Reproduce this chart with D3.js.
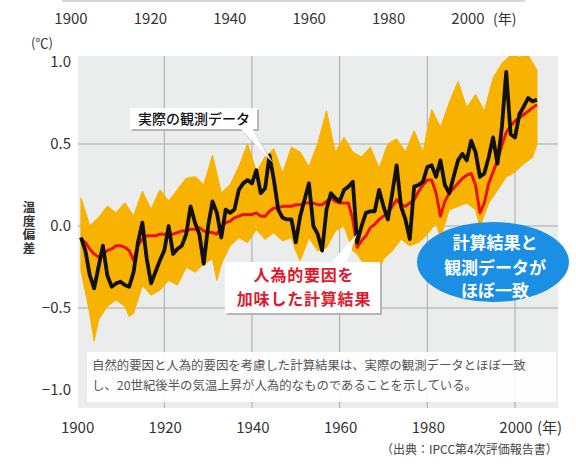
<!DOCTYPE html>
<html>
<head>
<meta charset="utf-8">
<script src="https://cdn.jsdelivr.net/npm/d3@7"></script>
<style>
  html, body { margin: 0; padding: 0; background: #fff; }
  svg { display: block; font-family: "Noto Sans CJK JP", "Noto Sans", sans-serif; }
</style>
</head>
<body>
<svg id="chart" width="576" height="471"></svg>
<script>
// --- data ---
const firstYear = 1901;
const observed = [
  -0.07,-0.15,-0.30,-0.38,-0.25,-0.12,-0.30,-0.37,-0.35,-0.34,
  -0.36,-0.37,-0.28,-0.10,0.02,-0.20,-0.35,-0.28,-0.21,-0.15,
  0.00,-0.17,-0.14,-0.12,-0.05,0.12,0.02,-0.05,-0.23,0.00,
  0.15,0.08,-0.07,0.10,0.08,0.10,0.22,0.26,0.28,0.26,
  0.34,0.20,0.23,0.43,0.28,0.10,0.05,0.04,0.04,-0.10,
  0.06,0.16,0.26,0.00,-0.05,-0.15,0.10,0.20,0.17,0.15,
  0.22,0.24,0.27,-0.10,0.00,0.08,0.09,0.09,0.22,0.12,
  0.04,0.20,0.37,0.12,0.04,-0.08,0.24,0.25,0.27,0.36,
  0.37,0.30,0.40,0.25,0.20,0.30,0.40,0.44,0.40,0.52,
  0.45,0.30,0.32,0.42,0.54,0.38,0.60,0.94,0.56,0.54,
  0.68,0.73,0.78,0.76,0.77
];
const modelMean = [
  -0.08,-0.10,-0.14,-0.17,-0.19,-0.17,-0.15,-0.14,-0.12,-0.12,
  -0.13,-0.15,-0.21,-0.12,-0.08,-0.06,-0.06,-0.06,-0.05,-0.05,
  -0.05,-0.05,-0.04,-0.03,-0.03,-0.02,-0.02,-0.01,-0.03,-0.04,
  -0.04,-0.05,-0.01,0.02,0.03,0.05,0.06,0.07,0.07,0.07,
  0.08,0.06,0.06,0.09,0.11,0.11,0.12,0.12,0.12,0.13,
  0.13,0.14,0.14,0.14,0.13,0.13,0.15,0.17,0.15,0.14,
  0.14,0.14,0.04,-0.13,-0.09,-0.06,-0.01,0.01,0.04,0.06,
  0.08,0.12,0.16,0.13,0.12,0.14,0.16,0.21,0.25,0.28,
  0.28,0.20,0.06,0.15,0.20,0.23,0.26,0.29,0.31,0.32,
  0.25,0.08,0.14,0.26,0.33,0.40,0.49,0.57,0.61,0.64,
  0.66,0.68,0.70,0.72,0.74
];
// model spread (upper / lower edge of the orange bundle)
const upperYears = [1901,1903,1905,1907,1909,1911,1913,1915,1917,1919,1921,1923,1925,1927,1929,1931,1933,1935,1937,1939,1941,1943,1945,1947,1949,1951,1953,1955,1957,1959,1961,1963,1965,1967,1969,1971,1973,1975,1977,1979,1981,1983,1985,1987,1989,1991,1993,1995,1997,1999,2001,2003,2005];
const upperVals  = [0.17,0.00,0.05,0.12,0.08,0.14,0.06,0.21,0.10,0.22,0.15,0.22,0.29,0.30,0.25,0.43,0.20,0.25,0.36,0.50,0.33,0.42,0.47,0.32,0.48,0.45,0.36,0.50,0.70,0.45,0.54,0.45,0.42,0.48,0.35,0.50,0.53,0.45,0.58,0.45,0.71,0.60,0.75,0.88,0.72,0.80,0.70,0.90,0.99,1.04,1.03,1.04,0.95];
const lowerYears = [1901,1903,1904,1905,1907,1909,1911,1912,1913,1915,1917,1919,1921,1923,1925,1927,1929,1931,1932,1933,1935,1937,1939,1941,1943,1945,1947,1949,1950,1951,1953,1955,1957,1959,1961,1963,1964,1966,1968,1970,1972,1974,1976,1978,1980,1982,1983,1985,1987,1989,1991,1992,1994,1996,1998,2000,2002,2004,2005];
const lowerVals  = [-0.27,-0.53,-0.70,-0.57,-0.49,-0.45,-0.49,-0.55,-0.53,-0.36,-0.42,-0.39,-0.33,-0.36,-0.25,-0.28,-0.23,-0.20,-0.33,-0.23,-0.12,-0.07,-0.10,-0.02,-0.08,-0.04,-0.09,-0.07,-0.15,-0.21,-0.07,-0.15,-0.13,-0.03,0.00,-0.15,-0.17,-0.25,-0.33,-0.20,-0.15,-0.08,-0.12,-0.10,-0.05,0.02,-0.07,0.10,0.12,0.14,0.10,0.00,0.14,0.22,0.30,0.33,0.38,0.42,0.50];

const yearTicks = [1900, 1920, 1940, 1960, 1980, 2000];
const gridYears = [1920, 1940, 1960, 1980, 2000];
const valueTicks = [1.0, 0.5, 0.0, -0.5, -1.0];
const gridValues = [0.5, 0.0, -0.5];

const svg = d3.select("#chart");
const plot = {left: 78, right: 558, top: 56, bottom: 408};

const x = d3.scaleLinear().domain([1900, 2000]).range([76.6, 515]);
const y = d3.scaleLinear().domain([-1, 1]).range([390, 62]);
const xTop = d3.scaleLinear().domain([1900, 2000]).range([71, 468]);

// strip of the chart above (cut off)
svg.append("line").attr("x1", 62).attr("x2", 525).attr("y1", 1).attr("y2", 1)
  .attr("stroke", "#c8c8c8").attr("stroke-width", 1.5);
svg.append("g").selectAll("text").data(yearTicks).join("text")
  .attr("x", d => xTop(d)).attr("y", 24).attr("text-anchor", "middle")
  .attr("font-size", 15).attr("fill", "#333").text(d => d);
svg.append("text").attr("x", 493).attr("y", 24).attr("font-size", 14).attr("fill", "#333").text("(年)");

// plot background and grid
svg.append("rect").attr("x", plot.left).attr("y", plot.top)
  .attr("width", plot.right - plot.left).attr("height", plot.bottom - plot.top)
  .attr("fill", "#ebecec");

svg.append("defs").append("clipPath").attr("id", "clip")
  .append("rect").attr("x", plot.left).attr("y", plot.top)
  .attr("width", plot.right - plot.left).attr("height", plot.bottom - plot.top);

const grid = svg.append("g").attr("stroke", "#a9a9a9").attr("stroke-width", 1);
grid.selectAll("line.v").data(gridYears).join("line").attr("class", "v")
  .attr("x1", d => x(d)).attr("x2", d => x(d)).attr("y1", plot.top).attr("y2", plot.bottom);
grid.selectAll("line.h").data(gridValues).join("line").attr("class", "h")
  .attr("x1", plot.left).attr("x2", plot.right).attr("y1", d => y(d)).attr("y2", d => y(d));

// orange model spread
const bandPts = upperYears.map((yr, i) => [yr, upperVals[i]])
  .concat(lowerYears.map((yr, i) => [yr, lowerVals[i]]).reverse());
const bandLine = d3.line().x(d => x(d[0])).y(d => y(d[1])).curve(d3.curveLinearClosed);
const lines = svg.append("g").attr("clip-path", "url(#clip)");
lines.append("path").attr("d", bandLine(bandPts))
  .attr("fill", "#f8b300").attr("stroke", "#f8b300").attr("stroke-width", 1.2).attr("stroke-linejoin", "round");

const seriesLine = d3.line().x((d, i) => x(firstYear + i)).y(d => y(d));
lines.append("path").attr("d", seriesLine(modelMean))
  .attr("fill", "none").attr("stroke", "#e8121c").attr("stroke-width", 3).attr("stroke-linejoin", "round");
lines.append("path").attr("d", seriesLine(observed))
  .attr("fill", "none").attr("stroke", "#111").attr("stroke-width", 3.8).attr("stroke-linejoin", "round");

// y axis labels
svg.append("g").selectAll("text").data(valueTicks).join("text")
  .attr("x", 71).attr("y", d => y(d)).attr("dy", "0.36em").attr("text-anchor", "end")
  .attr("font-size", 15).attr("fill", "#333")
  .text(d => (d < 0 ? "\u2212" : "") + Math.abs(d).toFixed(1));
svg.append("text").attr("x", 31).attr("y", 48).attr("font-size", 13).attr("fill", "#333").text("(℃)");
// vertical axis title
svg.append("text").attr("x", 29).attr("y", 201)
  .style("writing-mode", "vertical-rl")
  .attr("font-size", 12.5).attr("font-weight", "bold").attr("fill", "#333")
  .attr("letter-spacing", 1.2).text("温度偏差");

// bottom x labels
svg.append("g").selectAll("text").data(yearTicks).join("text")
  .attr("x", d => x(d) + 1).attr("y", 433).attr("text-anchor", "middle")
  .attr("font-size", 15).attr("fill", "#333").text(d => d);
svg.append("text").attr("x", 537).attr("y", 433).attr("font-size", 15).attr("fill", "#333").text("(年)");

// note box
svg.append("rect").attr("x", 87).attr("y", 352).attr("width", 469).attr("height", 50)
  .attr("fill", "#fff").attr("opacity", 0.93);
svg.append("text").attr("x", 92).attr("y", 370).attr("font-size", 12.4).attr("fill", "#555")
  .text("自然的要因と人為的要因を考慮した計算結果は、実際の観測データとほぼ一致");
svg.append("text").attr("x", 92).attr("y", 390).attr("font-size", 12.4).attr("fill", "#555")
  .text("し、20世紀後半の気温上昇が人為的なものであることを示している。");

svg.append("text").attr("x", 381).attr("y", 454).attr("font-size", 12).attr("fill", "#444")
  .text("（出典：IPCC第4次評価報告書）");

// callout: observed
const shadow = "#b5b5b5";
svg.append("path").attr("d", "M242,131 L272,162 L253,131 Z").attr("fill", shadow).attr("transform", "translate(2,2)");
svg.append("rect").attr("x", 132).attr("y", 110).attr("width", 127).attr("height", 21).attr("fill", shadow);
svg.append("path").attr("d", "M240,128 L271,161 L252,128 Z").attr("fill", "#fff");
svg.append("rect").attr("x", 130).attr("y", 108).attr("width", 127).attr("height", 21).attr("fill", "#fff");
svg.append("text").attr("x", 194).attr("y", 123.5).attr("text-anchor", "middle")
  .attr("font-size", 14).attr("font-weight", 500).attr("fill", "#111").text("実際の観測データ");

// callout: model mean
svg.append("rect").attr("x", 227).attr("y", 264).attr("width", 155).attr("height", 51).attr("fill", shadow);
svg.append("path").attr("d", "M330,264 L357,234 L346,264 Z").attr("fill", "#fff");
svg.append("rect").attr("x", 225).attr("y", 262).attr("width", 155).attr("height", 51).attr("fill", "#fff");
svg.append("text").attr("x", 304).attr("y", 281).attr("text-anchor", "middle")
  .attr("font-size", 16).attr("font-weight", "bold").attr("fill", "#e0192e")
  .attr("letter-spacing", 0.8).text("人為的要因を");
svg.append("text").attr("x", 304).attr("y", 305).attr("text-anchor", "middle")
  .attr("font-size", 16).attr("font-weight", "bold").attr("fill", "#e0192e")
  .attr("letter-spacing", 0.8).text("加味した計算結果");

// blue ellipse
svg.append("ellipse").attr("cx", 493).attr("cy", 262).attr("rx", 76).attr("ry", 40).attr("fill", "#1b8fe3");
[["計算結果と", 249], ["観測データが", 274], ["ほぼ一致", 297]].forEach(([t, yy]) => {
  svg.append("text").attr("x", 495).attr("y", yy).attr("text-anchor", "middle")
    .attr("font-size", 17).attr("font-weight", "bold").attr("fill", "#fff").text(t);
});
</script>
</body>
</html>
